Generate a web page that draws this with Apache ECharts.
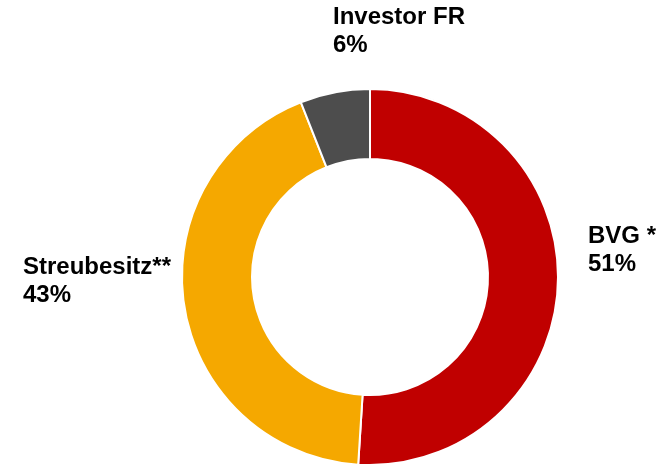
<!DOCTYPE html>
<html>
<head>
<meta charset="utf-8">
<script src="https://cdn.jsdelivr.net/npm/echarts@6/dist/echarts.min.js"></script>
<style>
html, body { margin: 0; padding: 0; background: #fff; }
#chart { width: 669px; height: 466px; }
</style>
</head>
<body>
<div id="chart"></div>
<script>
// shares of the shareholder structure, clockwise from 12 o'clock
const names = ["BVG *", "Streubesitz**", "Investor FR"]
const shares = [51, 43, 6]
const colors = ["#C00000", "#F5A800", "#4D4D4D"]

// where each label's top-left corner sits
const labelSpots = [[588, 222], [23, 253], [333, 3]]

let myChart = echarts.init(document.getElementById("chart"))

let data = names.map((n, i) => ({
    name: n,
    value: shares[i],
    itemStyle: { color: colors[i] }
}))

let option = {
    animation: false,
    series: [{
        type: "pie",
        center: [370, 277],
        radius: [118, 188],
        startAngle: 90,
        clockwise: true,
        data: data,
        itemStyle: {
            borderColor: "#fff",
            borderWidth: 2
        },
        label: {
            show: true,
            position: "outside",
            formatter: p => p.name + "\n" + p.value + "%",
            fontFamily: "Liberation Sans, Arial, sans-serif",
            fontWeight: "bold",
            fontSize: 24,
            lineHeight: 28,
            color: "#000",
            align: "left",
            overflow: "none",
            width: 200
        },
        labelLine: { show: false },
        labelLayout: p => ({
            x: labelSpots[p.dataIndex][0],
            y: labelSpots[p.dataIndex][1],
            align: "left",
            verticalAlign: "top"
        })
    }]
}
myChart.setOption(option)
</script>
</body>
</html>
